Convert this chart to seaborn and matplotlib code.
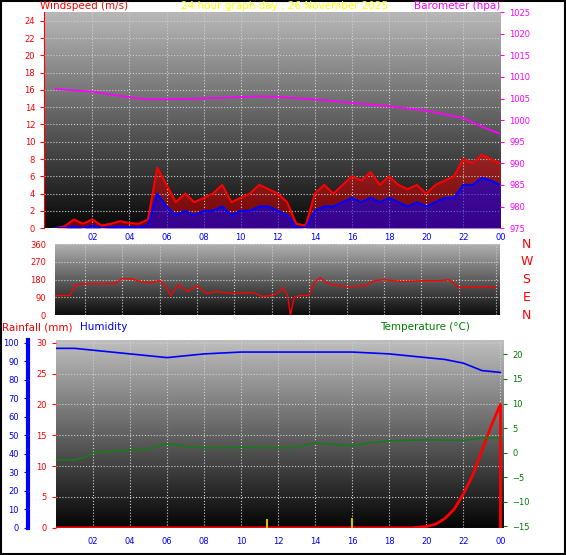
import numpy as np
import matplotlib
matplotlib.use("Agg")
import matplotlib.pyplot as plt
import seaborn as sns

# time axis (hours), half-hourly for wind
wind_hours = [i * 0.5 for i in range(49)]
wind_gust = [0, 0.2, 1, 0.5, 1, 0.3, 0.5, 0.8, 0.6, 0.5, 1, 7, 5, 3, 4, 3, 3.5, 4, 5, 3,
             3.5, 4, 5, 4.5, 4, 3, 0.5, 0.3, 4, 5, 4, 5, 6, 5.5, 6.5, 5, 6, 5, 4.5, 5,
             4, 5, 5.5, 6, 8, 7.5, 8.5, 8, 7.5]
wind_avg = [0, 0, 0.2, 0, 0.3, 0, 0.1, 0.2, 0.1, 0.1, 0.3, 4, 2.5, 1.5, 2, 1.5, 2, 2, 2.5, 1.5,
            2, 2, 2.5, 2.5, 2, 1.5, 0.1, 0, 2, 2.5, 2.5, 3, 3.5, 3, 3.5, 3, 3.5, 3, 2.5, 3,
            2.5, 3, 3.5, 3.5, 5, 5, 5.8, 5.5, 5]

baro_hours = [0, 2, 4, 5, 7, 9, 11, 12, 14, 16, 18, 20, 22, 23, 24]
baro_hpa = [1007.2, 1006.6, 1005.3, 1004.8, 1004.9, 1005.2, 1005.5, 1005.4, 1004.8, 1004.0,
            1003.2, 1002.2, 1000.5, 998.5, 996.8]

dir_hours = [0.4, 1.2, 1.5, 2, 3.6, 4, 4.5, 5, 5.5, 6, 6.3, 6.6, 7, 7.5, 8, 8.5, 9, 10, 11,
             11.5, 12, 12.3, 12.6, 12.85, 13, 13.2, 13.5, 14, 14.3, 14.6, 15, 16, 17, 17.5,
             18, 19, 20, 21, 21.5, 22, 23, 24]
dir_deg = [100, 100, 155, 160, 160, 185, 185, 170, 165, 175, 150, 100, 155, 120, 150, 110,
           120, 110, 115, 95, 100, 110, 140, 100, 0, 90, 100, 100, 170, 190, 160, 145, 150,
           175, 180, 170, 175, 175, 180, 140, 145, 140]

hum_hours = [0, 1, 2, 3, 5, 6, 8, 10, 12, 14, 16, 18, 19, 20, 21, 22, 23, 24]
humidity = [97, 97, 96, 95, 93, 92, 94, 95, 95, 95, 95, 94, 93, 92, 91, 89, 85, 84]

temp_hours = [0, 1, 1.5, 2, 3, 4, 5, 6, 7, 8, 10, 12, 13, 14, 16, 17, 18, 20, 22, 23, 24]
temperature = [-1.5, -1.5, -1.0, 0, 0.3, 0.5, 0.8, 1.8, 1.3, 1.0, 1.1, 1.0, 1.1, 2.0, 1.4,
               2.0, 2.4, 2.6, 2.5, 3.0, 3.0]

rain_hours = [0, 19.2, 20, 20.5, 21, 21.5, 22, 22.5, 23, 23.5, 24]
rainfall = [0, 0, 0.2, 0.6, 1.5, 3, 5.5, 8.5, 12.5, 16.5, 20]

rate_hours = [11.4, 16.0]
rain_rate = [1.5, 1.6]

tick_hours = list(range(2, 25, 2))
tick_labels = ["%02d" % (h % 24) for h in tick_hours]

sns.set_style("white")
fig = plt.figure(figsize=(5.66, 5.55), dpi=100)
fig.patch.set_facecolor("white")


def gradient(ax, top=0.72, bottom=0.03):
    g = np.linspace(top, bottom, 256).reshape(-1, 1)
    ax.imshow(g, extent=[0, 1, 0, 1], transform=ax.transAxes, cmap="gray", vmin=0, vmax=1,
              aspect="auto", zorder=0)


def grid(ax):
    ax.grid(True, color="#cfcfcf", linestyle=":", linewidth=0.8, zorder=1)
    ax.set_axisbelow(False)


# wind speed / barometer
ax1 = fig.add_axes([0.078, 0.589, 0.806, 0.389])
gradient(ax1)
ax1.fill_between(wind_hours, 0, wind_gust, color="red", alpha=0.45, lw=0, zorder=2)
sns.lineplot(x=wind_hours, y=wind_gust, ax=ax1, color="red", lw=1.5, zorder=3)
ax1.fill_between(wind_hours, 0, wind_avg, color="blue", alpha=0.55, lw=0, zorder=4)
sns.lineplot(x=wind_hours, y=wind_avg, ax=ax1, color="blue", lw=1.5, zorder=5)
ax1.set_xlim(-0.6, 24)
ax1.set_ylim(0, 25)
ax1.set_yticks(range(0, 25, 2))
ax1.set_xticks(tick_hours)
ax1.set_xticklabels(tick_labels)
ax1.tick_params(axis="y", colors="red", labelsize=6, length=3)
ax1.tick_params(axis="x", colors="blue", labelsize=6, length=0)
ax1.spines["left"].set_color("red")
grid(ax1)
ax1b = ax1.twinx()
sns.lineplot(x=baro_hours, y=baro_hpa, ax=ax1b, color="magenta", lw=1.3)
ax1b.set_ylim(975, 1025)
ax1b.set_yticks(range(975, 1026, 5))
ax1b.tick_params(axis="y", colors="magenta", labelsize=6, length=3)
for s in ["top", "bottom", "left", "right"]:
    ax1b.spines[s].set_visible(False)
for s in ["top", "bottom", "right"]:
    ax1.spines[s].set_visible(False)

# wind direction
ax2 = fig.add_axes([0.097, 0.432, 0.786, 0.128])
gradient(ax2, 0.7, 0.05)
sns.lineplot(x=dir_hours, y=dir_deg, ax=ax2, color="red", lw=1, zorder=3)
ax2.set_xlim(0.4, 24.2)
ax2.set_ylim(0, 360)
ax2.set_yticks([0, 90, 180, 270, 360])
ax2.set_xticks(tick_hours)
ax2.set_xticklabels([])
ax2.tick_params(axis="y", colors="red", labelsize=6, length=3)
ax2.tick_params(axis="x", length=0)
grid(ax2)
for s in ax2.spines.values():
    s.set_visible(False)
for lab, frac in zip(["N", "W", "S", "E", "N"], [1.0, 0.75, 0.5, 0.25, 0.0]):
    ax2.text(1.06, frac, lab, transform=ax2.transAxes, color="red", fontsize=9,
             ha="center", va="center")

# rain / humidity / temperature
ax3 = fig.add_axes([0.099, 0.049, 0.79, 0.339])
gradient(ax3, 0.75, 0.02)
ax3.set_ylim(0, 30.5)
ax3.set_yticks(range(0, 31, 5))
ax3.vlines(rate_hours, 0, rain_rate, color="#d0c000", lw=1.5, zorder=7)
sns.lineplot(x=rain_hours, y=rainfall, ax=ax3, color="red", lw=2, zorder=6)
ax3.vlines([rain_hours[-1]], 0, [rainfall[-1]], color="red", lw=2, zorder=6)
ax3.set_xticks(tick_hours)
ax3.set_xticklabels(tick_labels)
ax3.tick_params(axis="y", colors="red", labelsize=6, length=3)
ax3.tick_params(axis="x", colors="blue", labelsize=6, length=3)
grid(ax3)
for s in ax3.spines.values():
    s.set_visible(False)

ax3h = ax3.twinx()
ax3h.yaxis.set_ticks_position("left")
ax3h.yaxis.set_label_position("left")
ax3h.spines["left"].set_position(("axes", -0.063))
ax3h.spines["left"].set_color("blue")
ax3h.spines["left"].set_linewidth(3)
sns.lineplot(x=hum_hours, y=humidity, ax=ax3h, color="blue", lw=1.2, zorder=4)
ax3h.set_ylim(0, 101.7)
ax3h.set_yticks(range(0, 101, 10))
ax3h.tick_params(axis="y", colors="blue", labelsize=6, length=3)
for s in ["top", "bottom", "right"]:
    ax3h.spines[s].set_visible(False)

ax3t = ax3.twinx()
sns.lineplot(x=temp_hours, y=temperature, ax=ax3t, color="#1a7a1a", lw=1.2, zorder=4)
ax3t.set_ylim(-15.3, 23)
ax3t.set_yticks(range(-15, 21, 5))
ax3t.tick_params(axis="y", colors="green", labelsize=6, length=3)
for s in ax3t.spines.values():
    s.set_visible(False)
for a in (ax3, ax3h, ax3t):
    a.set_xlim(0, 24.15)

# header texts
fig.text(40 / 566, 1 - 6 / 555, "Windspeed (m/s)", color="red", fontsize=7.5, va="center")
fig.text(285 / 566, 1 - 6 / 555, "24 hour graph day : 26 November 2025", color="yellow",
         fontsize=7.5, va="center", ha="center")
fig.text(500 / 566, 1 - 6 / 555, "Barometer (hpa)", color="magenta", fontsize=7.5,
         va="center", ha="right")
fig.text(2 / 566, 1 - 327 / 555, "Rainfall (mm)", color="red", fontsize=7.5, va="center")
fig.text(80 / 566, 1 - 327 / 555, "Humidity", color="blue", fontsize=7.5, va="center")
fig.text(380 / 566, 1 - 327 / 555, "Temperature (\u00b0C)", color="green", fontsize=7.5,
         va="center")

fig.patches.append(plt.Rectangle((0.002, 0.002), 0.996, 0.996, transform=fig.transFigure,
                                 fill=False, edgecolor="black", lw=1.5))

fig.savefig("out.png", dpi=100)
